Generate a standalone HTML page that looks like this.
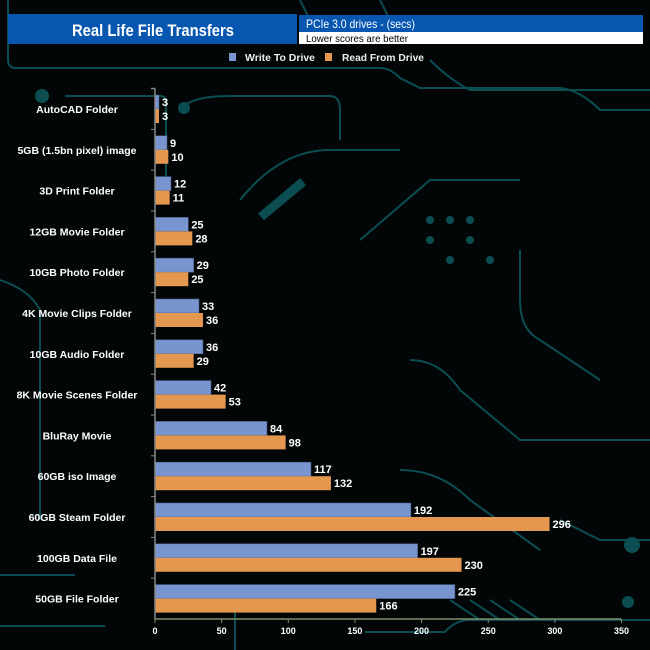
<!DOCTYPE html>
<html><head><meta charset="utf-8"><style>
body{margin:0;background:#000;}
#c{position:relative;width:650px;height:650px;overflow:hidden;background:#020607;font-family:"Liberation Sans",sans-serif;}
</style></head><body>
<div id="c">
<svg width="650" height="650" id="svg" style="position:absolute;left:0;top:0">
<g stroke="#0b4d50" stroke-width="2" fill="none">
<path d="M8 0 V60 Q8 68 16 68 H380 Q390 68 400 78 L420 88 H560 Q580 90 600 110 H650"/>
<path d="M300 0 Q305 10 310 20"/>
<path d="M380 0 Q390 20 400 40"/>
<path d="M430 60 Q450 80 470 90 H650"/>
<path d="M65 96 H160 Q166 96 166 102 V200"/>
<path d="M180 110 Q190 96 230 96 H330 Q340 96 340 110 V140"/>
<path d="M240 200 Q280 150 330 150 H400"/>
<path d="M360 240 L430 180 H520"/>
<path d="M520 250 V300 Q520 330 540 340 L600 380"/>
<path d="M0 280 Q30 290 40 310 V520"/>
<path d="M410 360 Q440 360 460 390 L520 440 H650"/>
<path d="M400 470 Q440 470 470 500 L540 550"/>
<path d="M560 520 L600 540 H650"/>
<path d="M0 575 H75"/>
<path d="M0 626 H105"/>
<path d="M365 632 H445 Q455 620 470 620 H650"/>
<path d="M235 610 V650"/>
<path d="M450 600 L480 620 M470 600 L500 620 M490 600 L520 620 M510 600 L540 620"/>
</g>
<g fill="#0b4d50">
<circle cx="42" cy="96" r="7"/><circle cx="184" cy="108" r="6"/><circle cx="632" cy="545" r="8"/><circle cx="628" cy="602" r="6"/>
<circle cx="430" cy="220" r="4"/><circle cx="450" cy="220" r="4"/><circle cx="470" cy="220" r="4"/><circle cx="430" cy="240" r="4"/><circle cx="470" cy="240" r="4"/><circle cx="450" cy="260" r="4"/><circle cx="490" cy="260" r="4"/>
<rect x="255" y="195" width="55" height="9" transform="rotate(-40 282 200)"/>
</g>
<rect x="8" y="14" width="289" height="30" fill="#0757b0"/>
<text x="72" y="36" textLength="162" lengthAdjust="spacingAndGlyphs" fill="#fff" font-size="17" font-weight="bold">Real Life File Transfers</text>
<rect x="299" y="15" width="344" height="17" fill="#0757b0"/>
<text x="306" y="28" textLength="109" lengthAdjust="spacingAndGlyphs" fill="#fff" font-size="12">PCIe 3.0 drives - (secs)</text>
<rect x="299" y="32" width="344" height="12" fill="#fff"/>
<text x="306" y="42" textLength="102" lengthAdjust="spacingAndGlyphs" fill="#000" font-size="10.5">Lower scores are better</text>
<rect x="229" y="53" width="7" height="8" fill="#7895cf"/>
<text x="245" y="61" textLength="70" lengthAdjust="spacingAndGlyphs" fill="#eee" font-size="10" font-weight="bold">Write To  Drive</text>
<rect x="325" y="53" width="7" height="8" fill="#e3974f"/>
<text x="342" y="61" textLength="82" lengthAdjust="spacingAndGlyphs" fill="#eee" font-size="10" font-weight="bold">Read From  Drive</text>
<g id="plot"></g>
</svg>
</div>
<script>
const categories=["AutoCAD Folder","5GB (1.5bn pixel) image","3D Print Folder","12GB Movie Folder","10GB Photo Folder","4K Movie Clips Folder","10GB Audio Folder","8K Movie Scenes Folder","BluRay Movie","60GB iso Image","60GB Steam Folder","100GB Data File","50GB File Folder"];
const writeVals=[3,9,12,25,29,33,36,42,84,117,192,197,225];
const readVals=[3,10,11,28,25,36,29,53,98,132,296,230,166];
const ticks=[0,50,100,150,200,250,300,350];
const NS="http://www.w3.org/2000/svg";
const g=document.getElementById('plot');
const x0=155,x1=621.5,xmax=350,yTop=88.5,band=40.8,axisY=619;
const xs=v=>x0+v/xmax*(x1-x0);
const yc=i=>109+i*band;
function mk(t,a){const e=document.createElementNS(NS,t);for(const k in a)e.setAttribute(k,a[k]);g.appendChild(e);return e;}
let e;
categories.forEach((c,i)=>{
  const cy=yc(i);
  e=mk('rect',{x:x0,y:cy-14,width:xs(writeVals[i])-x0,height:14,fill:'#7895cf',stroke:'#4a5f8a','stroke-width':0.6});
  
  
  e=mk('rect',{x:x0,y:cy,width:xs(readVals[i])-x0,height:14,fill:'#e3974f'});
  
  
  e=mk('text',{x:xs(writeVals[i])+3,y:cy-3,fill:'#fff','font-size':11,'font-weight':'bold'});e.textContent=writeVals[i];
  
  
  e=mk('text',{x:xs(readVals[i])+3,y:cy+11,fill:'#fff','font-size':11,'font-weight':'bold'});e.textContent=readVals[i];
  
  
  e=mk('text',{x:77,y:cy+4,fill:'#fff','font-size':10.5,'font-weight':'bold','text-anchor':'middle'});e.textContent=c;
  
  
  e=mk('line',{x1:x0-4,x2:x0,y1:cy-band/2,y2:cy-band/2,stroke:'#888','stroke-width':1});
  
  
});
e=mk('line',{x1:x0,x2:x0,y1:yTop,y2:axisY,stroke:'#888','stroke-width':1.5});


e=mk('line',{x1:x0-4,x2:x0,y1:yTop,y2:yTop,stroke:'#888','stroke-width':1.5});


e=mk('line',{x1:x0,x2:x1,y1:axisY,y2:axisY,stroke:'#7d8f6e','stroke-width':1.5});


ticks.forEach(t=>{
  e=mk('line',{x1:xs(t),x2:xs(t),y1:axisY,y2:axisY+4,stroke:'#7d8f6e','stroke-width':1});
  
  
  e=mk('text',{x:xs(t),y:axisY+15,fill:'#fff','font-size':9,'font-weight':'bold','text-anchor':'middle'});e.textContent=t;
  
  
});
</script>
</body></html>
